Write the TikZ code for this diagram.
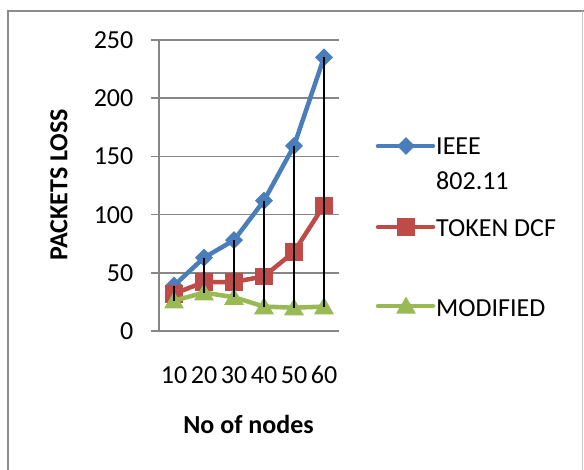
\documentclass[tikz,border=0pt]{standalone}
\usepackage{fontspec}
\setmainfont{Carlito}
\usetikzlibrary{shapes.geometric}
\definecolor{ieeecol}{HTML}{4A7EBB}
\definecolor{tokencol}{HTML}{BE4B48}
\definecolor{modcol}{HTML}{98B954}
\definecolor{gridcol}{HTML}{868686}
\definecolor{framedark}{HTML}{8C8C8C}
\definecolor{framelight}{HTML}{C8C8C8}
\begin{document}
\begin{tikzpicture}[x=1pt,y=-1pt,
  chartfont/.style={font=\fontsize{26}{31}\selectfont},
  boldfont/.style={font=\fontsize{26}{31}\selectfont\bfseries},
  gridline/.style={draw=gridcol,line width=1.6pt},
  seriesline/.style={line width=4.5pt,line join=round,line cap=round},
  hiloline/.style={draw=black,line width=1.6pt},
  diamondmark/.style={shape=rectangle,rotate=45,fill=ieeecol,minimum size=12.7pt,inner sep=0pt},
  squaremark/.style={shape=rectangle,fill=tokencol,minimum size=17.5pt,inner sep=0pt},
  trianglemark/.style={shape=regular polygon,regular polygon sides=3,fill=modcol,minimum size=23pt,inner sep=0pt},
  txt/.style={chartfont,inner sep=0pt}]
\useasboundingbox (0,0) rectangle (584,470);

% chart area border
\draw[framedark,line width=2pt] (584,11) -- (8,11) -- (8,470);
\draw[framelight,line width=1pt] (582.7,11) -- (582.7,470);

% value axis: gridlines and labels
\foreach \v in {0,50,100,150,200,250}{
  \draw[gridline] (151,{331-1.164*\v}) -- (339,{331-1.164*\v});
  \node[txt,anchor=base east] (yl\v) at (133.5,{339.5-1.164*\v}) {\v};
}
\draw[gridline] (159,40) -- (159,331);

% category labels
\foreach \c [count=\i] in {10,20,30,40,50,60}{
  \node[txt,anchor=base] (xl\i) at ({144+30*\i},383.5) {\c};
}

% axis titles
\node[boldfont,inner sep=0pt,anchor=base,rotate=90] (ytitle) at (67.3,185) {PACKETS LOSS};
\node[boldfont,inner sep=0pt,anchor=base] (xtitle) at (248.5,433.5) {No of nodes};

% data points
\foreach \v [count=\i] in {39,63,78,112,159,235}{
  \coordinate (I\i) at ({144+30*\i},{331-1.164*\v});
}
\foreach \v [count=\i] in {32,42,42,47,68,108}{
  \coordinate (T\i) at ({144+30*\i},{331-1.164*\v});
}
\foreach \v [count=\i] in {26,33,29,21,20,21}{
  \coordinate (M\i) at ({144+30*\i},{331-1.164*\v});
}

% IEEE 802.11 series
\draw[seriesline,ieeecol] (I1) \foreach \i in {2,...,6}{ -- (I\i)};
\foreach \i in {1,...,6} \node[diamondmark] (Im\i) at (I\i) {};

% TOKEN DCF series
\draw[seriesline,tokencol] (T1) \foreach \i in {2,...,6}{ -- (T\i)};
\foreach \i in {1,...,6} \node[squaremark] (Tm\i) at (T\i) {};

% MODIFIED series
\draw[seriesline,modcol] (M1) \foreach \i in {2,...,6}{ -- (M\i)};
\foreach \i in {1,...,6} \node[trianglemark,yshift=-2pt] (Mm\i) at (M\i) {};

% high-low lines
\foreach \i in {1,...,6} \draw[hiloline] (I\i) -- (M\i);

% legend
\coordinate (la1) at (378,146); \coordinate (lb1) at (433,146);
\draw[seriesline,ieeecol] (la1) -- (lb1);
\node[diamondmark] (lm1) at (406,146) {};
\node[txt,anchor=base west] (lt1) at (436,154.5) {IEEE};
\node[txt,anchor=base west] (lt1b) at (436,190) {802.11};

\coordinate (la2) at (378,227); \coordinate (lb2) at (433,227);
\draw[seriesline,tokencol] (la2) -- (lb2);
\node[squaremark] (lm2) at (406,227) {};
\node[txt,anchor=base west] (lt2) at (436,236.5) {TOKEN DCF};

\coordinate (la3) at (378,306); \coordinate (lb3) at (433,306);
\draw[seriesline,modcol] (la3) -- (lb3);
\node[trianglemark,yshift=-2pt] (lm3) at (406,306) {};
\node[txt,anchor=base west] (lt3) at (436,316.5) {MODIFIED};
\end{tikzpicture}
\end{document}
